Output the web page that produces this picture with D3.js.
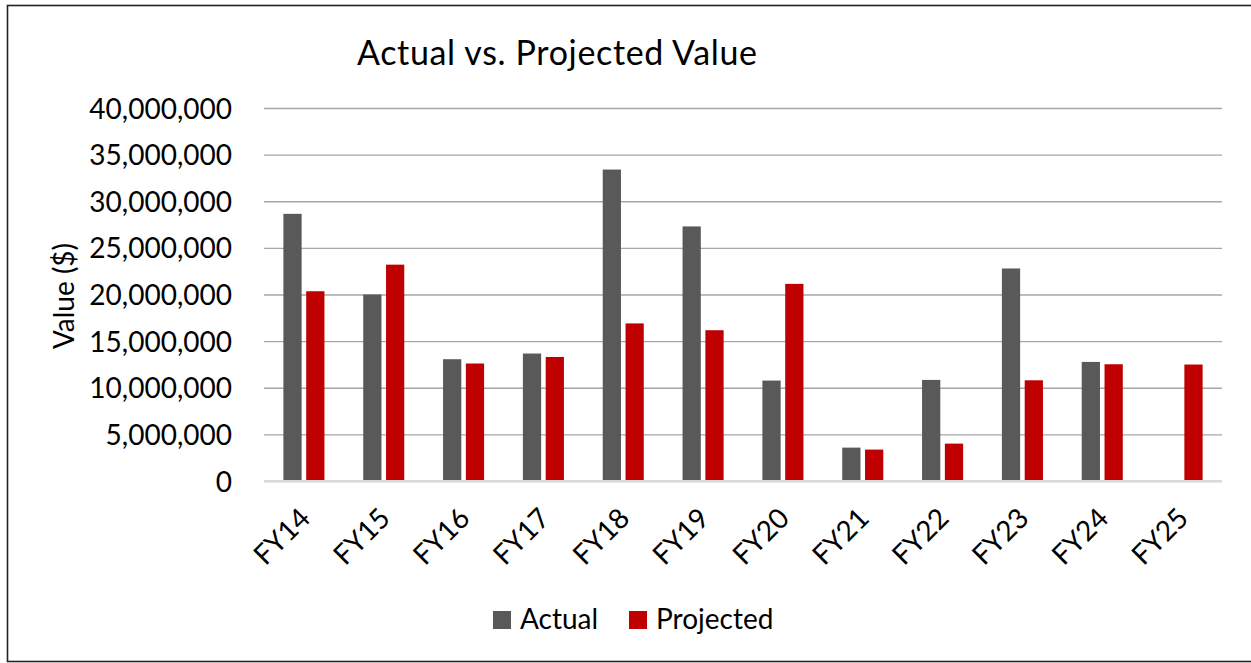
<!DOCTYPE html>
<html>
<head>
<meta charset="utf-8">
<script src="https://cdn.jsdelivr.net/npm/d3@7"></script>
<style>
  html, body { margin: 0; padding: 0; background: #fff; }
  svg, svg text { font-family: Lato, "Open Sans", sans-serif; }
</style>
</head>
<body>
<div id="chart"></div>
<script>
// chart data, values in dollars
var years = ['FY14', 'FY15', 'FY16', 'FY17', 'FY18', 'FY19', 'FY20', 'FY21', 'FY22', 'FY23', 'FY24', 'FY25'];
var actual = [28650000, 20000000, 13060000, 13670000, 33400000, 27300000, 10770000, 3580000, 10840000, 22790000, 12770000, null];
var projected = [20350000, 23200000, 12600000, 13300000, 16900000, 16170000, 21140000, 3370000, 4010000, 10800000, 12520000, 12490000];
var yTicks = [0, 5000000, 10000000, 15000000, 20000000, 25000000, 30000000, 35000000, 40000000];
var seriesNames = ['Actual', 'Projected'];
var colors = ['#595959', '#c00000'];

var width = 1251, height = 663;
var plot = {left: 264, right: 1222, top: 108, bottom: 481};

var svg = d3.select('#chart').append('svg')
    .attr('width', width)
    .attr('height', height);

// outer frame (right edge is cropped off in the original)
svg.append('rect')
    .attr('x', 7.5).attr('y', 5.5)
    .attr('width', 1260).attr('height', 656)
    .attr('fill', 'none')
    .attr('stroke', '#222')
    .attr('stroke-width', 1.6);

var x0 = d3.scaleBand()
    .domain(years)
    .range([plot.left, plot.right]);

var x1 = d3.scaleBand()
    .domain(seriesNames)
    .range([0, x0.bandwidth()])
    .paddingInner(0.2)
    .paddingOuter(0.85);

var y = d3.scaleLinear()
    .domain([0, 40000000])
    .range([plot.bottom, plot.top]);

var fmt = d3.format(',');

// gridlines + y labels
var yAxis = d3.axisLeft(y)
    .tickValues(yTicks)
    .tickFormat(fmt)
    .tickSize(-(plot.right - plot.left))
    .tickPadding(32);

var gy = svg.append('g')
    .attr('transform', 'translate(' + plot.left + ',0)')
    .call(yAxis)
    .attr('font-family', null)
    .attr('font-size', null);
gy.select('.domain').remove();
gy.selectAll('.tick line')
    .attr('stroke', '#a6a6a6')
    .attr('stroke-width', 1.4);
gy.selectAll('.tick text')
    .attr('fill', '#000')
    .style('font-size', '28px')
    .attr('dy', '0.36em');

// bars
var rows = years.map(function(yr, i) {
  return {year: yr, values: [actual[i], projected[i]]};
});

svg.append('g').selectAll('g')
    .data(rows)
  .enter().append('g')
    .attr('transform', function(d) { return 'translate(' + x0(d.year) + ',0)'; })
  .selectAll('rect')
    .data(function(d) {
      return seriesNames.map(function(name, k) { return {name: name, value: d.values[k], k: k}; })
        .filter(function(v) { return v.value != null; });
    })
  .enter().append('rect')
    .attr('x', function(d) { return x1(d.name); })
    .attr('y', function(d) { return y(d.value); })
    .attr('width', x1.bandwidth())
    .attr('height', function(d) { return y(0) - y(d.value); })
    .attr('fill', function(d) { return colors[d.k]; });

// x axis line
svg.append('line')
    .attr('x1', plot.left).attr('x2', plot.right)
    .attr('y1', y(0)).attr('y2', y(0))
    .attr('stroke', '#d9d9d9')
    .attr('stroke-width', 2);

// x labels, rotated
svg.append('g').selectAll('text')
    .data(years)
  .enter().append('text')
    .attr('transform', function(d) {
      return 'translate(' + (x0(d) + x0.bandwidth() / 2 + 8) + ',520) rotate(-45)';
    })
    .attr('text-anchor', 'end')
    .style('font-size', '28px')
    .attr('fill', '#000')
    .text(function(d) { return d; });

// title
svg.append('text')
    .attr('x', 357).attr('y', 65)
    .attr('textLength', 400)
    .attr('lengthAdjust', 'spacing')
    .style('font-size', '34px')
    .attr('fill', '#000')
    .text('Actual vs. Projected Value');

// y axis title
svg.append('text')
    .attr('transform', 'translate(74,296) rotate(-90)')
    .attr('text-anchor', 'middle')
    .style('font-size', '28px')
    .attr('fill', '#000')
    .text('Value ($)');

// legend
var legend = svg.append('g');
var legendX = [493, 629];
seriesNames.forEach(function(name, k) {
  legend.append('rect')
      .attr('x', legendX[k]).attr('y', 611)
      .attr('width', 18).attr('height', 18)
      .attr('fill', colors[k]);
  legend.append('text')
      .attr('x', legendX[k] + 27).attr('y', 629)
      .style('font-size', '28px')
      .attr('fill', '#000')
      .text(name);
});
</script>
</body>
</html>
